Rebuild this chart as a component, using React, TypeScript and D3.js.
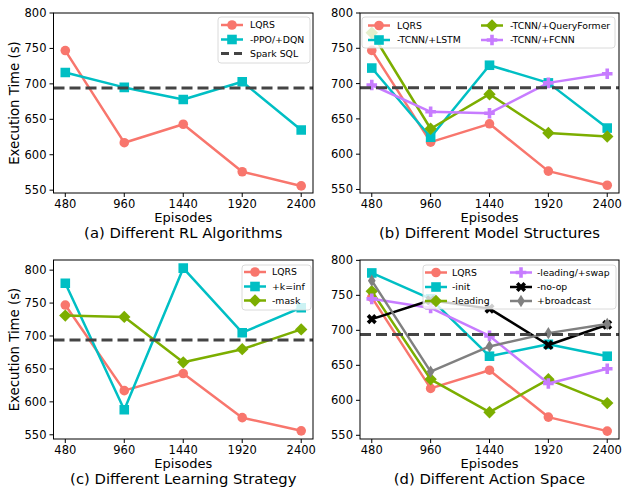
import React from "react";
import * as d3 from "d3";

// episodes on the x axis
const episodes = [480, 960, 1440, 1920, 2400];
const yTicks = [550, 600, 650, 700, 750, 800];

const lqrs = [747, 617, 643, 576, 556];
const sparkSql = 694;

// (a) RL algorithms
const ppoDqn = [716, 695, 678, 703, 635];
// (b) model structures
const tcnnLstm = [722, 624, 726, 701, 637];
const tcnnQueryFormer = [772, 636, 685, 630, 625];
const tcnnFcnn = [698, 660, 658, 701, 714];
// (c) learning strategy
const kInf = [780, 588, 803, 705, 743];
const noMask = [731, 729, 660, 680, 710];
// (d) action space
const noInit = [782, 745, 663, 680, 663];
const noLeading = [756, 630, 583, 630, 596];
const leadingSwap = [745, 732, 692, 624, 645];
const noOp = [716, 743, 731, 679, 708];
const broadcast = [771, 641, 677, 696, 709];

const RED = "#F8766D";
const CYAN = "#00BFC4";
const GREEN = "#7CAE00";
const PURPLE = "#C77CFF";

const FONT = "DejaVu Sans, Verdana, sans-serif";

type Marker = "o" | "s" | "D" | "P" | "X" | "d" | "none";
type Series = { name: string; values: number[]; color: string; marker: Marker };

function markerPath(m: Marker): string {
  const p = d3.path();
  if (m === "o") {
    p.arc(0, 0, 4.8, 0, Math.PI * 2);
  } else if (m === "s") {
    p.rect(-4.8, -4.8, 9.6, 9.6);
  } else if (m === "D" || m === "d") {
    const h = 6.2;
    const w = m === "D" ? h : h * 0.62;
    p.moveTo(0, -h); p.lineTo(w, 0); p.lineTo(0, h); p.lineTo(-w, 0); p.closePath();
  } else if (m === "P" || m === "X") {
    const a = 5.3, t = 1.8;
    const pts = [[-t, -a], [t, -a], [t, -t], [a, -t], [a, t], [t, t], [t, a], [-t, a], [-t, t], [-a, t], [-a, -t], [-t, -t]];
    const ang = m === "X" ? Math.PI / 4 : 0;
    pts.forEach(([x, y], i) => {
      const rx = x * Math.cos(ang) - y * Math.sin(ang);
      const ry = x * Math.sin(ang) + y * Math.cos(ang);
      if (i === 0) p.moveTo(rx, ry); else p.lineTo(rx, ry);
    });
    p.closePath();
  }
  return p.toString();
}

type PanelProps = {
  x0: number; x1: number; y0: number; y1: number;
  yDomain: [number, number];
  series: Series[];
  title: string;
  yLabel: boolean;
  legend: { x: number; y: number; w: number; h: number; cols: number[]; rowY: number[]; textDx: number };
  legendItems: (Series | "spark")[];
};

function Panel(props: PanelProps) {
  const { x0, x1, y0, y1, yDomain, series, title, yLabel, legend, legendItems } = props;
  const x = d3.scaleLinear().domain([384, 2496]).range([x0, x1]);
  const y = d3.scaleLinear().domain(yDomain).range([y1, y0]);
  const line = d3.line<number>().x((_, i) => x(episodes[i])).y((d) => y(d));
  const clipId = "clip" + x0 + "_" + y0;
  const rows = legend.rowY.length;

  return (
    <g>
      <defs>
        <clipPath id={clipId}>
          <rect x={x0} y={y0} width={x1 - x0} height={y1 - y0} />
        </clipPath>
      </defs>
      <g clipPath={`url(#${clipId})`}>
        {series.map((s) => (
          <g key={s.name}>
            <path d={line(s.values) || ""} fill="none" stroke={s.color} strokeWidth={2.5} strokeLinejoin="round" />
            {s.values.map((v, i) => (
              <path key={i} d={markerPath(s.marker)} transform={`translate(${x(episodes[i])},${y(v)})`} fill={s.color} />
            ))}
          </g>
        ))}
        <line x1={x0} x2={x1} y1={y(sparkSql)} y2={y(sparkSql)} stroke="#444" strokeWidth={3} strokeDasharray="11 5" />
      </g>
      {/* legend */}
      <rect x={legend.x} y={legend.y} width={legend.w} height={legend.h} rx={3} fill="white" fillOpacity={0.8} stroke="#d0d0d0" strokeWidth={0.8} />
      {legendItems.map((item, k) => {
        const col = Math.floor(k / rows);
        const ly = legend.rowY[k % rows];
        const lx = legend.cols[col];
        if (item === "spark") {
          return (
            <g key="spark">
              <line x1={lx} x2={lx + 22} y1={ly} y2={ly} stroke="#444" strokeWidth={3} strokeDasharray="8 5" />
              <text x={lx + legend.textDx} y={ly + 3.4} fontSize={9.3} fontFamily={FONT}>Spark SQL</text>
            </g>
          );
        }
        return (
          <g key={item.name}>
            <line x1={lx} x2={lx + 22} y1={ly} y2={ly} stroke={item.color} strokeWidth={2.5} />
            <path d={markerPath(item.marker)} transform={`translate(${lx + 11},${ly})`} fill={item.color} />
            <text x={lx + legend.textDx} y={ly + 3.4} fontSize={9.3} fontFamily={FONT}>{item.name}</text>
          </g>
        );
      })}
      {/* frame */}
      <rect x={x0} y={y0} width={x1 - x0} height={y1 - y0} fill="none" stroke="black" strokeWidth={1} />
      {yTicks.filter((t) => t >= yDomain[0] && t <= yDomain[1] + 0.5).map((t) => (
        <g key={t}>
          <line x1={x0 - 4} x2={x0} y1={y(t)} y2={y(t)} stroke="black" />
          <text x={x0 - 7} y={y(t) + 4} textAnchor="end" fontSize={11.5} fontFamily={FONT}>{t}</text>
        </g>
      ))}
      {episodes.map((e) => (
        <g key={e}>
          <line x1={x(e)} x2={x(e)} y1={y1} y2={y1 + 4} stroke="black" />
          <text x={x(e)} y={y1 + 15} textAnchor="middle" fontSize={11.5} fontFamily={FONT}>{e}</text>
        </g>
      ))}
      <text x={(x0 + x1) / 2} y={y1 + 29} textAnchor="middle" fontSize={13} fontFamily={FONT}>Episodes</text>
      <text x={(x0 + x1) / 2} y={y1 + 45} textAnchor="middle" fontSize={14.8} fontFamily={FONT}>{title}</text>
      {yLabel && (
        <text transform={`translate(19,${(y0 + y1) / 2}) rotate(-90)`} textAnchor="middle" fontSize={13.3} fontFamily={FONT}>
          Execution Time (s)
        </text>
      )}
    </g>
  );
}

export default function App() {
  const sL: Series = { name: "LQRS", values: lqrs, color: RED, marker: "o" };
  const a: Series[] = [sL, { name: "-PPO/+DQN", values: ppoDqn, color: CYAN, marker: "s" }];
  const b: Series[] = [
    sL,
    { name: "-TCNN/+LSTM", values: tcnnLstm, color: CYAN, marker: "s" },
    { name: "-TCNN/+QueryFormer", values: tcnnQueryFormer, color: GREEN, marker: "D" },
    { name: "-TCNN/+FCNN", values: tcnnFcnn, color: PURPLE, marker: "P" },
  ];
  const c: Series[] = [
    sL,
    { name: "+k=inf", values: kInf, color: CYAN, marker: "s" },
    { name: "-mask", values: noMask, color: GREEN, marker: "D" },
  ];
  const d: Series[] = [
    sL,
    { name: "-init", values: noInit, color: CYAN, marker: "s" },
    { name: "-leading", values: noLeading, color: GREEN, marker: "D" },
    { name: "-leading/+swap", values: leadingSwap, color: PURPLE, marker: "P" },
    { name: "-no-op", values: noOp, color: "black", marker: "X" },
    { name: "+broadcast", values: broadcast, color: "#808080", marker: "d" },
  ];

  return (
    <svg width={626} height={492} style={{ position: "absolute", left: 0, top: 0, background: "white" }}>
      <Panel
        x0={53.5} x1={313} y0={13} y1={193} yDomain={[546, 800]} series={a} yLabel
        title="(a) Different RL Algorithms"
        legend={{ x: 218, y: 17, w: 92, h: 46, cols: [221], rowY: [25, 39.5, 53.5], textDx: 29 }}
        legendItems={[...a, "spark"]}
      />
      <Panel
        x0={360} x1={619} y0={13} y1={193} yDomain={[545, 800]} series={b} yLabel={false}
        title="(b) Different Model Structures"
        legend={{ x: 362, y: 17, w: 253, h: 31, cols: [368, 481], rowY: [25.5, 40], textDx: 29 }}
        legendItems={b}
      />
      <Panel
        x0={53.5} x1={313} y0={260} y1={439} yDomain={[543.6, 815.4]} series={c} yLabel
        title="(c) Different Learning Strategy"
        legend={{ x: 242, y: 265, w: 69, h: 45, cols: [244], rowY: [272, 286.5, 300.5], textDx: 28 }}
        legendItems={c}
      />
      <Panel
        x0={360} x1={619} y0={260} y1={439} yDomain={[544.7, 800.5]} series={d} yLabel={false}
        title="(d) Different Action Space"
        legend={{ x: 423, y: 265, w: 193, h: 44, cols: [425, 510], rowY: [272.5, 287, 301], textDx: 27 }}
        legendItems={d}
      />
    </svg>
  );
}
